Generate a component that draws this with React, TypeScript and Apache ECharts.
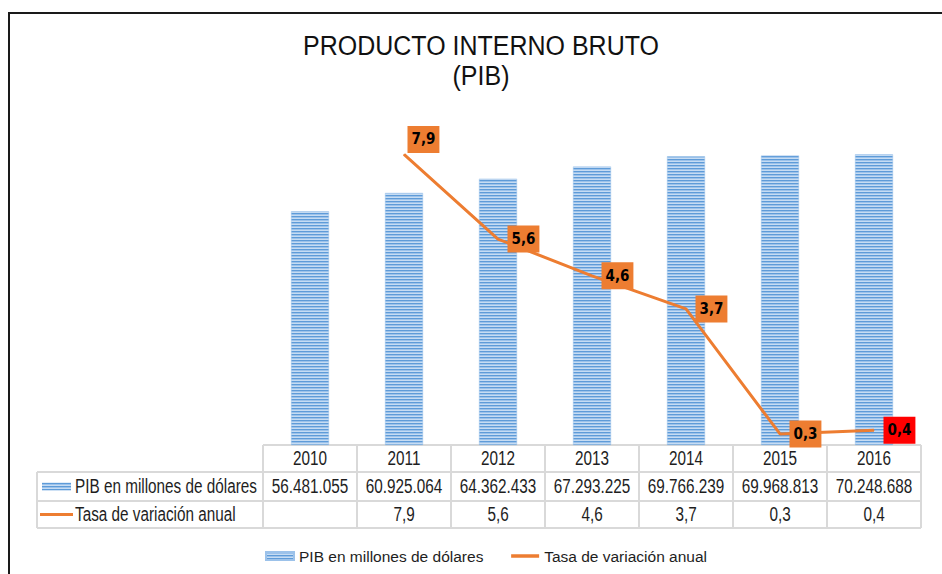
import React, { useEffect, useRef } from 'react';
import * as echarts from 'echarts';

// ---- data ----
const years = ['2010', '2011', '2012', '2013', '2014', '2015', '2016'];
const pib = [56481055, 60925064, 64362433, 67293225, 69766239, 69968813, 70248688];
const tasa: (number | null)[] = [null, 7.9, 5.6, 4.6, 3.7, 0.3, 0.4];
const seriesNames = ['PIB en millones de dólares', 'Tasa de variación anual'];
const titleLines = ['PRODUCTO INTERNO BRUTO', '(PIB)'];

// ---- layout ----
const W = 942;
const H = 574;
const GRID_LEFT = 263;
const GRID_RIGHT = 921;
const GRID_TOP = 114;
const GRID_BOTTOM = 445;
const COL_W = (GRID_RIGHT - GRID_LEFT) / years.length;
const TABLE_LEFT = 37;
const ROW_Y = [445, 472, 501, 528];
const ORANGE = '#ED7D31';
const FONT = '"Liberation Sans", Arial, sans-serif';
const NARROW = '"DejaVu Sans Condensed", "Liberation Sans Narrow", "Arial Narrow", sans-serif';
const TEXT_COLOR = '#1e1e1e';
const TABLE_FS = 15.3;
const STRETCH = 1.28;

const fmtPib = (v: number) => String(v).replace(/\B(?=(\d{3})+(?!\d))/g, '.');
const fmtTasa = (v: number | null | undefined) =>
  v == null || (v as any) === '-' ? '' : Number(v).toFixed(1).replace('.', ',');

function makePattern() {
  const c = document.createElement('canvas');
  c.width = 4;
  c.height = 3;
  const ctx = c.getContext('2d')!;
  ctx.fillStyle = '#C6DCF3';
  ctx.fillRect(0, 0, 4, 3);
  ctx.fillStyle = '#5E9BD8';
  ctx.fillRect(0, 0, 4, 1);
  ctx.fillStyle = '#9CC2EA';
  ctx.fillRect(0, 1, 4, 1);
  return { image: c, repeat: 'repeat' } as any;
}

function tableText(text: string, x: number, y: number, align: string) {
  return {
    type: 'text',
    x,
    y,
    scaleY: STRETCH,
    silent: true,
    style: {
      text,
      x: 0,
      y: 0,
      align,
      verticalAlign: 'middle',
      fontSize: TABLE_FS,
      fontFamily: FONT,
      fill: TEXT_COLOR,
    },
  };
}

function hLine(x1: number, x2: number, y: number, color: string, w: number) {
  return { type: 'line', silent: true, shape: { x1, y1: y, x2, y2: y }, style: { stroke: color, lineWidth: w } };
}
function vLine(x: number, y1: number, y2: number, color: string, w: number) {
  return { type: 'line', silent: true, shape: { x1: x, y1, x2: x, y2 }, style: { stroke: color, lineWidth: w } };
}

const labelOverrides: Record<number, any> = {
  1: { offset: [-6, -15] },
  6: { backgroundColor: '#FF0000' },
};

export default function App() {
  const ref = useRef<HTMLDivElement>(null);
  useEffect(() => {
    if (!ref.current) return;
    const chart = echarts.init(ref.current, undefined, { renderer: 'svg' });
    const pattern = makePattern();

    const graphic: any[] = [];
    // outer frame
    graphic.push(hLine(9, W, 13, '#1a1a1a', 2));
    graphic.push(vLine(9, 12, H, '#1a1a1a', 2));
    // title
    titleLines.forEach((t, i) => {
      graphic.push({
        type: 'text',
        x: 481,
        y: 46 + i * 30,
        scaleY: 1.12,
        silent: true,
        style: { text: t, x: 0, y: 0, align: 'center', verticalAlign: 'middle', fontSize: 25, fontFamily: FONT, fill: '#111' },
      });
    });
    // table grid
    const gridColor = '#D9D9D9';
    graphic.push(hLine(GRID_LEFT, GRID_RIGHT, ROW_Y[0], gridColor, 2));
    for (let r = 1; r < ROW_Y.length; r++) graphic.push(hLine(TABLE_LEFT, GRID_RIGHT, ROW_Y[r], gridColor, 2));
    graphic.push(vLine(TABLE_LEFT, ROW_Y[1], ROW_Y[3], gridColor, 2));
    for (let i = 0; i <= years.length; i++) graphic.push(vLine(GRID_LEFT + i * COL_W, ROW_Y[0], ROW_Y[3], gridColor, 2));
    // table row headers
    const rowMid = (r: number) => (ROW_Y[r] + ROW_Y[r + 1]) / 2;
    graphic.push({ type: 'rect', silent: true, shape: { x: 42, y: rowMid(1) - 4, width: 29, height: 8 }, style: { fill: pattern } });
    graphic.push(hLine(40, 73, rowMid(2), ORANGE, 3));
    graphic.push(tableText(seriesNames[0], 75, rowMid(1), 'left'));
    graphic.push(tableText(seriesNames[1], 75, rowMid(2), 'left'));
    // table cells
    years.forEach((y, i) => {
      const cx = GRID_LEFT + (i + 0.5) * COL_W;
      graphic.push(tableText(y, cx, rowMid(0), 'center'));
      graphic.push(tableText(fmtPib(pib[i]), cx, rowMid(1), 'center'));
      graphic.push(tableText(fmtTasa(tasa[i]), cx, rowMid(2), 'center'));
    });

    chart.setOption({
      animation: false,
      backgroundColor: '#ffffff',
      grid: { left: GRID_LEFT, right: W - GRID_RIGHT, top: GRID_TOP, bottom: H - GRID_BOTTOM, containLabel: false },
      legend: {
        left: 260,
        top: 543,
        itemWidth: 28,
        itemHeight: 8,
        itemGap: 26,
        textStyle: { fontSize: 15.5, color: TEXT_COLOR, fontFamily: FONT },
        data: [
          { name: seriesNames[0], icon: 'rect' },
          { name: seriesNames[1], itemStyle: { opacity: 0 }, lineStyle: { width: 3.5 } },
        ],
      },
      xAxis: {
        type: 'category',
        data: years,
        axisLine: { show: false },
        axisTick: { show: false },
        axisLabel: { show: false },
      },
      yAxis: [
        { type: 'value', min: 0, max: 80000000, show: false, splitLine: { show: false } },
        { type: 'value', min: 0, max: 9, show: false, splitLine: { show: false } },
      ],
      series: [
        {
          type: 'bar',
          name: seriesNames[0],
          data: pib,
          barWidth: 38,
          yAxisIndex: 0,
          itemStyle: { color: pattern, borderColor: '#9CC2EA', borderWidth: 0.5 },
        },
        {
          type: 'line',
          name: seriesNames[1],
          yAxisIndex: 1,
          symbol: 'circle',
          symbolSize: 1,
          itemStyle: { color: ORANGE },
          lineStyle: { color: ORANGE, width: 3 },
          z: 5,
          label: {
            show: true,
            position: 'right',
            distance: 9,
            formatter: (p: any) => fmtTasa(p.value),
            backgroundColor: ORANGE,
            color: '#000',
            fontWeight: 'bold',
            fontSize: 15,
            lineHeight: 18,
            fontFamily: NARROW,
            padding: [5, 4, 4, 4],
          },
          data: tasa.map((v, i) =>
            v == null ? '-' : { value: v, label: labelOverrides[i] ? { ...labelOverrides[i] } : undefined }
          ),
        },
      ],
      graphic,
    });
    return () => chart.dispose();
  }, []);
  return <div ref={ref} style={{ position: 'fixed', left: 0, top: 0, width: W, height: H }} />;
}
